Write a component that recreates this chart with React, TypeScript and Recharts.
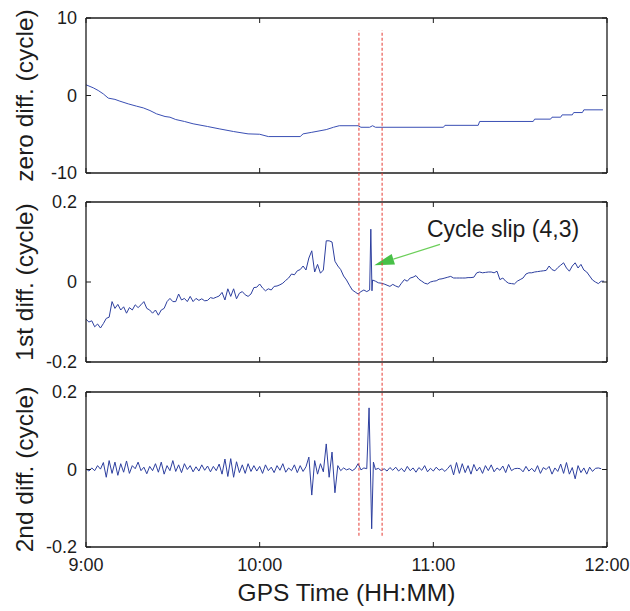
import React from 'react';
import { LineChart, Line, XAxis, YAxis, ReferenceLine, Label } from 'recharts';

const W = 630;
const H = 611;
const FONT = '"Liberation Sans", Arial, Helvetica, sans-serif';
const INK = '#1c1c1c';
const BLUE = '#2d3f9f';

// time axis: minutes after 9:00
const timeTicks = [0, 60, 120, 180];
const timeTickLabels = ['9:00', '10:00', '11:00', '12:00'];
const xTitle = 'GPS Time (HH:MM)';

const zeroDiffTicks = [-10, 0, 10];
const diffTicks = [-0.2, 0, 0.2];

const zeroDiffTitle = 'zero diff. (cycle)';
const firstDiffTitle = '1st diff. (cycle)';
const secondDiffTitle = '2nd diff. (cycle)';

// zero difference (breakpoints of a staircase-like curve)
const zeroDiffTimes = [
  0, 2.5, 4.2, 6, 7.7, 10, 11.7, 14.6, 17.5, 19.8, 22.1, 24.4, 27.3, 29, 31, 34, 37, 42, 46, 51, 56, 60, 63,
  74, 75, 78, 83, 85.5, 87.5, 94, 95, 98, 99, 100, 123.5, 124, 135.5, 136, 154.5, 155, 160.5, 161, 164,
  164.5, 168, 168.5, 171.5, 172, 178.6,
];
const zeroDiffValues = [
  1.38, 0.99, 0.65, 0.2, -0.34, -0.5, -0.73, -1.08, -1.38, -1.6, -1.94, -2.37, -2.71, -2.8, -3.1, -3.35, -3.65, -4.0, -4.3, -4.65, -4.95, -5.0, -5.3,
  -5.3, -4.95, -4.75, -4.4, -4.1, -3.9, -3.9, -4.1, -4.1, -3.9, -4.1, -4.1, -3.85, -3.85, -3.35, -3.35, -3.05, -3.05, -2.8, -2.8,
  -2.5, -2.5, -2.2, -2.2, -1.85, -1.85,
];

// first difference, one value per minute from 9:00
const firstDiffValues = [
  -0.093, -0.100, -0.097, -0.112, -0.105, -0.115, -0.104, -0.091, -0.088, -0.049,
  -0.066, -0.056, -0.070, -0.062, -0.078, -0.064, -0.070, -0.057, -0.064, -0.057,
  -0.049, -0.066, -0.070, -0.078, -0.070, -0.083, -0.070, -0.066, -0.049, -0.041,
  -0.049, -0.049, -0.030, -0.045, -0.041, -0.049, -0.036, -0.049, -0.041, -0.046,
  -0.042, -0.047, -0.046, -0.039, -0.041, -0.038, -0.035, -0.026, -0.045, -0.017,
  -0.036, -0.017, -0.042, -0.028, -0.024, -0.032, -0.036, -0.030, -0.014, -0.013,
  -0.005, -0.015, -0.022, -0.017, -0.020, -0.011, -0.010, -0.007, -0.003, 0.004,
  0.010, 0.020, 0.018, 0.028, 0.031, 0.040, 0.030, 0.060, 0.078, 0.025,
  0.044, 0.022, 0.030, 0.103, 0.103, 0.100, 0.052, 0.040, 0.031, 0.015,
  0.005, -0.008, -0.020, -0.025, -0.030, -0.024, -0.020, -0.024, -0.020, 0.005,
  0.002, -0.002, -0.003, -0.005, -0.008, -0.011, -0.006, -0.010, -0.013, -0.003,
  0.006, 0.002, 0.010, 0.012, 0.016, 0.007, 0.002, -0.003, -0.005, 0.000,
  0.002, 0.003, 0.007, 0.008, 0.010, 0.012, 0.014, 0.010, 0.010, 0.010,
  0.010, 0.010, 0.011, 0.011, 0.012, 0.023, 0.025, 0.023, 0.024, 0.025,
  0.025, 0.023, 0.027, 0.006, 0.010, 0.002, -0.003, -0.004, -0.005, 0.002,
  0.006, 0.010, 0.020, 0.023, 0.023, 0.025, 0.026, 0.027, 0.028, 0.029,
  0.040, 0.031, 0.028, 0.036, 0.042, 0.048, 0.035, 0.027, 0.040, 0.048,
  0.035, 0.044, 0.030, 0.025, 0.015, 0.005, 0.000, -0.004, 0.002, 0.002,
];
const firstDiffSpikeTimes = [98.4, 98.8];
const firstDiffSpikeValues = [0.132, -0.022];

// second difference, one value per minute from 9:00 (null where the spike samples replace it)
const secondDiffValues: (number | null)[] = [
  0.002, -0.004, 0.004, -0.003, 0.010, 0.001, 0.018, -0.020, 0.023, -0.010,
  0.019, -0.015, 0.015, -0.007, 0.022, -0.010, 0.010, 0.002, 0.019, -0.003,
  0.006, -0.011, 0.008, -0.003, 0.015, -0.007, 0.019, -0.012, 0.010, -0.003,
  0.023, -0.005, 0.012, -0.008, 0.015, 0.000, 0.010, -0.006, 0.007, -0.004,
  0.012, -0.002, 0.009, -0.006, 0.008, -0.003, 0.014, -0.012, 0.027, -0.018,
  0.028, -0.020, 0.020, -0.008, 0.012, -0.010, 0.015, -0.005, 0.010, -0.004,
  0.008, -0.010, 0.012, -0.003, 0.006, -0.008, 0.010, -0.002, 0.015, -0.007,
  0.004, -0.003, 0.012, -0.008, 0.010, -0.005, 0.007, 0.032, -0.066, 0.023,
  -0.012, 0.015, -0.006, 0.066, -0.020, 0.045, -0.060, 0.010, -0.003, 0.004,
  -0.001, 0.002, -0.003, 0.002, 0.015, -0.001, 0.004, 0.002, null, null,
  0.000, 0.003, -0.003, 0.002, -0.004, 0.005, -0.002, 0.006, -0.004, 0.003,
  -0.006, 0.008, -0.003, 0.004, -0.007, 0.005, -0.002, 0.010, -0.006, 0.003,
  -0.004, 0.006, -0.002, 0.002, -0.005, 0.003, 0.012, -0.014, 0.018, -0.010,
  0.015, -0.008, 0.010, -0.012, 0.013, -0.004, 0.006, -0.010, 0.010, -0.003,
  0.012, -0.006, 0.004, -0.002, 0.009, -0.008, 0.013, -0.003, 0.002, 0.003,
  0.002, -0.006, 0.008, -0.004, 0.003, -0.006, 0.010, -0.010, 0.005, 0.000,
  0.008, -0.012, 0.004, -0.005, 0.014, -0.010, 0.018, -0.012, 0.005, -0.024,
  0.010, -0.008, 0.004, -0.012, 0.006, -0.005, 0.003, 0.004, 0.002,
];
const secondDiffSpikeTimes = [97.8, 98.7, 99.3];
const secondDiffSpikeValues = [0.159, -0.153, 0.019];

// red dashed window (minutes), drawn in 2nd-diff units across all panels
const slipWindow = [94.3, 102.3];
const slipWindowSpan = [-0.171, 1.133];

// annotation arrow in 1st-diff units
const slipArrowTail = { t: 122.3, v: 0.094 };
const slipArrowTip = { t: 99.6, v: 0.042 };
const slipLabel = 'Cycle slip (4,3)';

type Pt = { t: number; v: number };

function fromPairs(times: number[], values: number[]): Pt[] {
  return times.map((t, i) => ({ t, v: values[i] }));
}

function fromMinutes(values: (number | null)[], extraT: number[], extraV: number[]): Pt[] {
  const pts: Pt[] = [];
  values.forEach((v, i) => {
    if (v !== null) pts.push({ t: i, v });
  });
  extraT.forEach((t, i) => pts.push({ t, v: extraV[i] }));
  return pts.sort((a, b) => a.t - b.t);
}

const zeroData = fromPairs(zeroDiffTimes, zeroDiffValues);
const firstData = fromMinutes(firstDiffValues, firstDiffSpikeTimes, firstDiffSpikeValues);
const secondData = fromMinutes(secondDiffValues, secondDiffSpikeTimes, secondDiffSpikeValues);

const axisStyle = { stroke: INK, strokeWidth: 1.3 };
const tickStyle = { stroke: INK, strokeWidth: 1 };
const noTick = () => <g />;
const formatTime = (v: number) => timeTickLabels[timeTicks.indexOf(v)] ?? '';
const formatY = (v: number) => String(v);
const TICK_FONT = 18;
const TITLE_FONT = 24.5;

const yTitle = (text: string) => (props: any) => {
  const vb = props.viewBox || {};
  const cx = vb.x - 52;
  const cy = vb.y + vb.height / 2;
  return (
    <text
      x={cx}
      y={cy}
      transform={`rotate(-90 ${cx} ${cy})`}
      textAnchor="middle"
      fontSize={TITLE_FONT}
      fontFamily={FONT}
      fill={INK}
    >
      {text}
    </text>
  );
};

const renderXTitle = (props: any) => {
  const vb = props.viewBox || {};
  return (
    <text
      x={vb.x + vb.width / 2}
      y={vb.y + 54}
      textAnchor="middle"
      fontSize={TITLE_FONT}
      fontFamily={FONT}
      fill={INK}
    >
      {xTitle}
    </text>
  );
};

function SlipArrow(props: any) {
  const { x1, y1, x2, y2 } = props;
  const dx = x1 - x2;
  const dy = y1 - y2;
  const len = Math.hypot(dx, dy) || 1;
  const ux = dx / len;
  const uy = dy / len;
  const headLen = 20;
  const headHalf = 5.5;
  const bx = x2 + ux * headLen;
  const by = y2 + uy * headLen;
  const pts = `${x2},${y2} ${bx - uy * headHalf},${by + ux * headHalf} ${bx + uy * headHalf},${by - ux * headHalf}`;
  return (
    <g>
      <line x1={x1} y1={y1} x2={bx} y2={by} stroke="#6ccf5a" strokeWidth={1.2} />
      <polygon points={pts} fill="#48c048" />
      <text x={x1 - 13} y={y1 - 7} fontSize={23} fontFamily={FONT} fill={INK}>
        {slipLabel}
      </text>
    </g>
  );
}

type PanelProps = {
  data: Pt[];
  top: number;
  bottom: number;
  domain: [number, number];
  ticks: number[];
  title: string;
  showTime?: boolean;
  stroke: string;
  children?: React.ReactNode;
};

const PLOT_LEFT = 86;
const PLOT_RIGHT = 607;

function Panel({ data, top, bottom, domain, ticks, title, showTime, stroke, children }: PanelProps) {
  return (
    <div style={{ position: 'absolute', left: 0, top: 0, width: W, height: H }}>
      <LineChart
        width={W}
        height={H}
        data={data}
        margin={{ top: top - 1, right: W - PLOT_RIGHT - 1, bottom: H - bottom - 1, left: PLOT_LEFT - 1 }}
      >
        <XAxis
          xAxisId="b"
          orientation="bottom"
          dataKey="t"
          type="number"
          domain={[0, 180]}
          ticks={timeTicks}
          interval={0}
          height={1}
          tickSize={-5}
          tickMargin={showTime ? 16 : 0}
          axisLine={axisStyle}
          tickLine={tickStyle}
          tick={showTime ? { fontSize: TICK_FONT, fill: INK, fontFamily: FONT } : noTick}
          tickFormatter={formatTime}
          allowDataOverflow
        >
          {showTime ? <Label content={renderXTitle} /> : null}
        </XAxis>
        <XAxis
          xAxisId="t"
          orientation="top"
          dataKey="t"
          type="number"
          domain={[0, 180]}
          ticks={timeTicks}
          interval={0}
          height={1}
          tickSize={-5}
          axisLine={axisStyle}
          tickLine={tickStyle}
          tick={noTick}
          allowDataOverflow
        />
        <YAxis
          yAxisId="l"
          orientation="left"
          type="number"
          domain={domain}
          ticks={ticks}
          interval={0}
          width={1}
          tickSize={-5}
          tickMargin={14}
          axisLine={axisStyle}
          tickLine={tickStyle}
          tick={{ fontSize: TICK_FONT, fill: INK, fontFamily: FONT }}
          tickFormatter={formatY}
          allowDataOverflow
        >
          <Label content={yTitle(title)} />
        </YAxis>
        <YAxis
          yAxisId="r"
          orientation="right"
          type="number"
          domain={domain}
          ticks={ticks}
          interval={0}
          width={1}
          tickSize={-5}
          axisLine={axisStyle}
          tickLine={tickStyle}
          tick={noTick}
          allowDataOverflow
        />
        <Line
          xAxisId="b"
          yAxisId="l"
          type="linear"
          dataKey="v"
          stroke={stroke}
          strokeWidth={1}
          dot={false}
          activeDot={false}
          isAnimationActive={false}
        />
        {children}
      </LineChart>
    </div>
  );
}

export default function App() {
  return (
    <div style={{ position: 'absolute', left: 0, top: 0, width: W, height: H, background: '#fff', fontFamily: FONT }}>
      <Panel data={zeroData} top={18} bottom={173} domain={[-10, 10]} ticks={zeroDiffTicks} title={zeroDiffTitle} stroke="#3a4fb4" />
      <Panel data={firstData} top={202} bottom={362} domain={[-0.2, 0.2]} ticks={diffTicks} title={firstDiffTitle} stroke={BLUE}>
        <ReferenceLine
          xAxisId="b"
          yAxisId="l"
          segment={[
            { x: slipArrowTail.t, y: slipArrowTail.v },
            { x: slipArrowTip.t, y: slipArrowTip.v },
          ]}
          ifOverflow="visible"
          shape={SlipArrow}
        />
      </Panel>
      <Panel data={secondData} top={392} bottom={547} domain={[-0.2, 0.2]} ticks={diffTicks} title={secondDiffTitle} stroke={BLUE} showTime>
        {slipWindow.map((t) => (
          <ReferenceLine
            key={t}
            xAxisId="b"
            yAxisId="l"
            segment={[
              { x: t, y: slipWindowSpan[0] },
              { x: t, y: slipWindowSpan[1] },
            ]}
            ifOverflow="visible"
            stroke="#e53a32"
            strokeWidth={1}
            strokeDasharray="3 2"
          />
        ))}
      </Panel>
    </div>
  );
}
